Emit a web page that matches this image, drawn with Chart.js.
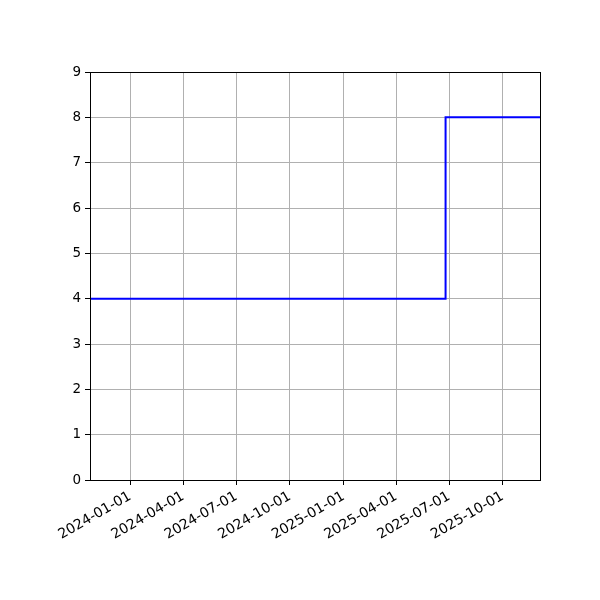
<!DOCTYPE html>
<html>
<head>
<meta charset="utf-8">
<script src="https://cdn.jsdelivr.net/npm/chart.js@4"></script>
<style>
html, body { margin:0; padding:0; background:#fff; }
</style>
</head>
<body>
<canvas id="stepChart" width="600" height="600"></canvas>
<script>
// data
var stepDates = ['2023-10-24', '2025-06-25', '2025-12-04'];
var stepValues = [4, 8, 8];
var tickDates = ['2024-01-01', '2024-04-01', '2024-07-01', '2024-10-01', '2025-01-01', '2025-04-01', '2025-07-01', '2025-10-01'];
var yTicks = [0, 1, 2, 3, 4, 5, 6, 7, 8, 9];

function toMs(s) {
    var p = s.split('-');
    return Date.UTC(+p[0], +p[1] - 1, +p[2]);
}
function fmt(ms) {
    var d = new Date(ms);
    var m = d.getUTCMonth() + 1, day = d.getUTCDate();
    return d.getUTCFullYear() + '-' + (m < 10 ? '0' + m : m) + '-' + (day < 10 ? '0' + day : day);
}

var points = [];
for (var i = 0; i < stepDates.length; i++) {
    points.push({x: toMs(stepDates[i]), y: stepValues[i]});
}

// top and right spines
var frame = {
    id: 'frame',
    afterDraw: function(chart) {
        var a = chart.chartArea, ctx = chart.ctx;
        ctx.save();
        ctx.strokeStyle = '#000';
        ctx.lineWidth = 1;
        ctx.strokeRect(Math.round(a.left) + 0.5, Math.round(a.top) + 0.5, Math.round(a.right - a.left), Math.round(a.bottom - a.top));
        ctx.restore();
    }
};

Chart.defaults.font.family = 'DejaVu Sans';
Chart.defaults.font.size = 13.5;
Chart.defaults.color = '#000';

new Chart(document.getElementById('stepChart'), {
    type: 'line',
    data: {
        datasets: [{
            data: points,
            borderColor: '#0000ff',
            borderWidth: 2,
            stepped: 'before',
            pointRadius: 0,
            fill: false
        }]
    },
    options: {
        responsive: false,
        animation: false,
        devicePixelRatio: 1,
        layout: { padding: { top: 72, right: 60, left: 0, bottom: 0 } },
        plugins: { legend: { display: false }, tooltip: { enabled: false } },
        scales: {
            x: {
                type: 'linear',
                min: toMs(stepDates[0]),
                max: toMs(stepDates[stepDates.length - 1]),
                afterBuildTicks: function(scale) {
                    scale.ticks = tickDates.map(function(t) { return {value: toMs(t)}; });
                },
                afterFit: function(scale) { scale.height = 120; },
                grid: { color: '#b0b0b0', tickColor: '#000', tickLength: 5, lineWidth: 1 },
                border: { color: '#000', width: 1 },
                ticks: {
                    minRotation: 30,
                    maxRotation: 30,
                    padding: 3,
                    autoSkip: false,
                    font: { size: 14 },
                    callback: function(v) { return fmt(v); }
                }
            },
            y: {
                min: 0,
                max: 9,
                afterBuildTicks: function(scale) {
                    scale.ticks = yTicks.map(function(v) { return {value: v}; });
                },
                afterFit: function(scale) { scale.width = 90; },
                grid: { color: '#b0b0b0', tickColor: '#000', tickLength: 5, lineWidth: 1 },
                border: { color: '#000', width: 1 },
                ticks: { padding: 4 }
            }
        }
    },
    plugins: [frame]
});
</script>
</body>
</html>
